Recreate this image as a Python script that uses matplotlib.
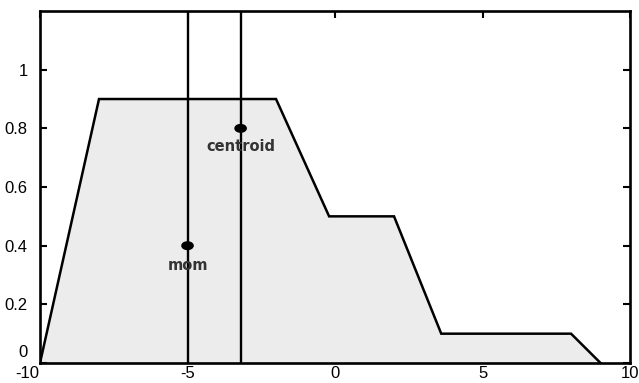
import matplotlib
matplotlib.use("Agg")
import matplotlib.pyplot as plt
from matplotlib.patches import Ellipse
from matplotlib.transforms import ScaledTranslation

plt.rcParams['font.family'] = ['Liberation Sans', 'DejaVu Sans']

# aggregated output membership function (polygon vertices)
shape_x = [-10, -8, -2, -0.2, 2, 3.6, 8, 9]
shape_y = [0, 0.9, 0.9, 0.5, 0.5, 0.1, 0.1, 0]

# defuzzified values
centroid_x, centroid_y = -3.2, 0.8
mom_x, mom_y = -5.0, 0.4

x_ticks = [-10, -5, 0, 5, 10]
x_tick_labels = ['-10', '-5', '0', '5', '10']
y_ticks = [0, 0.2, 0.4, 0.6, 0.8, 1]
y_tick_labels = ['0', '0.2', '0.4', '0.6', '0.8', '1']

fig = plt.figure(figsize=(6.39, 3.83), dpi=100)
ax = fig.add_axes([0.0626, 0.0522, 0.9234, 0.9190])

ax.fill(shape_x, shape_y, facecolor='#ececec', edgecolor='none', zorder=1)
ax.plot(shape_x, shape_y, color='black', lw=1.8, solid_joinstyle='miter', zorder=3)

ax.axvline(mom_x, color='black', lw=1.7, zorder=2)
ax.axvline(centroid_x, color='black', lw=1.7, zorder=2)

for px, py in [(centroid_x, centroid_y), (mom_x, mom_y)]:
    ax.add_patch(Ellipse((px, py), width=0.38, height=0.026,
                         facecolor='black', edgecolor='black', zorder=4))

ax.text(centroid_x, 0.738, 'centroid', ha='center', va='center',
        fontsize=10.5, fontweight='bold', color='#333333',
        family=['DejaVu Sans'], zorder=5)
ax.text(mom_x, 0.334, 'mom', ha='center', va='center',
        fontsize=10.5, fontweight='bold', color='#333333',
        family=['DejaVu Sans'], zorder=5)

ax.set_xlim(-10, 10)
ax.set_ylim(0, 1.2)
ax.set_xticks(x_ticks)
ax.set_xticklabels(x_tick_labels)
ax.set_yticks(y_ticks)
ax.set_yticklabels(y_tick_labels)
ax.tick_params(direction='in', length=5, width=1.5, top=True, right=True,
               bottom=False, labelbottom=True, labelsize=12)
ax.tick_params(axis='y', pad=9)
ax.tick_params(axis='x', pad=2)
for s in ax.spines.values():
    s.set_linewidth(1.9)
    s.set_zorder(6)

# nudge the corner labels apart so "0" and "-10" don't collide
ylab0 = ax.get_yticklabels()[0]
ylab0.set_transform(ylab0.get_transform() + ScaledTranslation(0, 9 / 72, fig.dpi_scale_trans))
xlab0 = ax.get_xticklabels()[0]
xlab0.set_transform(xlab0.get_transform() + ScaledTranslation(-9 / 72, 0, fig.dpi_scale_trans))

fig.savefig('out.png', dpi=100)
